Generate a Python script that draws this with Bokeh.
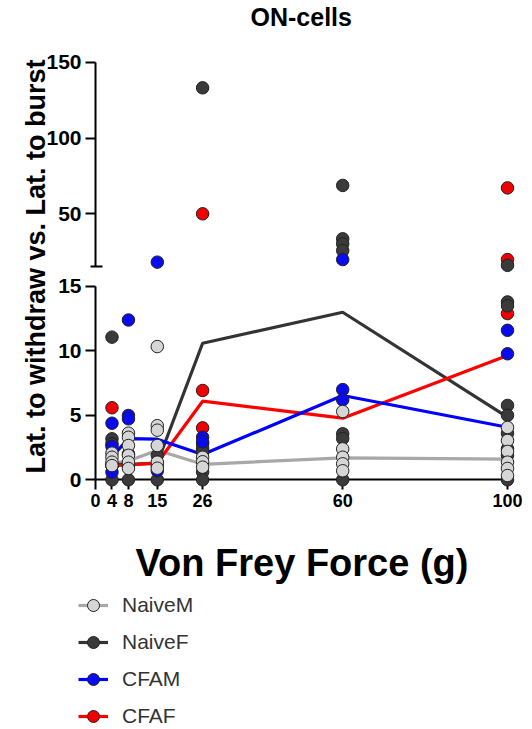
import math
from bokeh.plotting import figure
from bokeh.models import (Range1d, LinearAxis, FixedTicker, ColumnDataSource,
                          Legend, LegendItem, Label)
from bokeh.embed import file_html
from bokeh.resources import INLINE

# ---------------- data ----------------
forces = [4, 8, 15, 26, 60, 100]
force_ticks = [0, 4, 8, 15, 26, 60, 100]
lower_ticks = [0, 5, 10, 15]
upper_ticks = [50, 100, 150]
break_value = 15

naive_m_x = [4, 4, 4, 4,
             8, 8, 8, 8, 8, 8,
             15, 15, 15, 15, 15, 15,
             26, 26, 26,
             60, 60, 60, 60, 60,
             100, 100, 100, 100, 100, 100]
naive_m_y = [2.07, 1.75, 1.37, 1.1,
             3.62, 3.3, 2.66, 1.9, 1.37, 0.88,
             10.34, 4.2, 3.85, 2.66, 1.37, 0.9,
             1.75, 1.4, 0.98,
             5.3, 2.4, 1.75, 1.24, 0.7,
             4.06, 3.05, 2.2, 1.37, 0.88, 0.33]

naive_f_x = [4, 4, 4, 4, 4,
             8, 8, 8,
             15, 15, 15,
             26, 26, 26, 26, 26, 26,
             60, 60, 60, 60, 60, 60, 60,
             100, 100, 100, 100, 100, 100, 100, 100, 100]
naive_f_y = [11.07, 3.18, 2.79, 1.1, 0.0,
             2.0, 1.1, 0.0,
             1.9, 1.1, 0.0,
             133.1, 2.79, 2.45, 2.14, 0.6, 0.0,
             68.7, 33.5, 30.2, 25.8, 3.57, 3.2, 0.0,
             16.0, 13.8, 13.5, 5.77, 5.0, 3.6, 2.4, 1.9, 0.0]

cfam_x = [4, 4, 4, 8, 8, 8, 15, 15, 26, 26, 60, 60, 60, 100, 100]
cfam_y = [4.39, 2.6, 0.59, 12.4, 4.99, 4.73, 18.1, 0.7, 3.3, 2.95,
          19.8, 7.0, 6.2, 11.6, 9.78]

cfaf_x = [4, 4, 8, 26, 26, 26, 100, 100, 100]
cfaf_y = [5.59, 1.1, 1.2, 50.0, 6.93, 4.03, 67.1, 19.8, 12.9]

naive_m_mean = [1.3, 1.45, 2.3, 1.2, 1.7, 1.6]
naive_f_mean = [1.2, 1.2, 1.3, 10.6, 13.0, 4.86]
cfam_mean = [1.8, 3.2, 3.15, 1.96, 6.54, 4.08]
cfaf_mean = [1.1, 1.15, 1.3, 6.1, 4.78, 9.65]

# ---------------- layout (pixels inside the figure) ----------------
W, H = 532, 729
FR_L, FR_R, FR_T, FR_B = 0, 532, 20, 729
X0_PX, X_PER = 95.0, 4.12          # x = 0 position, px per gram
LO0_PX, LO_PER = 479.3, 12.887     # lower segment: y = 0 position, px per unit
UP150_PX, UP_PER = 61.7, 1.516     # upper segment: y = 150 position, px per unit

x_range = Range1d((FR_L - X0_PX) / X_PER, (FR_R - X0_PX) / X_PER)
lo_range = Range1d((LO0_PX - FR_B) / LO_PER, (LO0_PX - FR_T) / LO_PER)
up_range = Range1d(150 - (FR_B - UP150_PX) / UP_PER, 150 + (UP150_PX - FR_T) / UP_PER)

FONT = "Liberation Sans"

p = figure(width=W, height=H, x_range=x_range, y_range=lo_range,
           x_axis_location=None, y_axis_location=None,
           toolbar_location=None, output_backend="svg",
           min_border_left=FR_L, min_border_right=W - FR_R,
           min_border_top=FR_T, min_border_bottom=0)
p.extra_y_ranges = {"upper": up_range}
p.grid.grid_line_color = None
p.outline_line_color = None
p.background_fill_color = "white"

p.title.text = "ON-cells"
p.title.align = "left"
p.title.offset = 250
p.title.standoff = -20
p.title.vertical_align = "bottom"
p.title.text_font = FONT
p.title.text_font_size = "25px"
p.title.text_font_style = "bold"
p.title.text_color = "black"


def style_axis(ax, size):
    ax.level = "underlay"
    ax.axis_line_width = 2
    ax.axis_line_color = "black"
    ax.major_tick_line_width = 2
    ax.major_tick_line_color = "black"
    ax.major_tick_out = 10
    ax.major_tick_in = 0
    ax.major_label_standoff = 4
    ax.major_label_text_font = FONT
    ax.major_label_text_font_size = size
    ax.major_label_text_font_style = "bold"
    ax.major_label_text_color = "black"
    ax.minor_tick_line_color = None


ax_lo = LinearAxis(fixed_location=0, bounds=(0, break_value),
                   ticker=FixedTicker(ticks=lower_ticks))
style_axis(ax_lo, "21px")
ax_up = LinearAxis(y_range_name="upper", fixed_location=0, bounds=(break_value, 150),
                   ticker=FixedTicker(ticks=upper_ticks, minor_ticks=[break_value]))
style_axis(ax_up, "21px")
ax_up.minor_tick_line_color = "black"
ax_up.minor_tick_line_width = 2
ax_up.minor_tick_in = 7
ax_up.minor_tick_out = 5
ax_x = LinearAxis(fixed_location=0, bounds=(0, 100),
                  ticker=FixedTicker(ticks=force_ticks))
style_axis(ax_x, "18px")
p.add_layout(ax_lo, "left")
p.add_layout(ax_up, "left")
p.add_layout(ax_x, "below")

series = {
    "NaiveM": dict(x=naive_m_x, y=naive_m_y, mean=naive_m_mean, fill="#d6d6d6", line="#a8a8a8"),
    "NaiveF": dict(x=naive_f_x, y=naive_f_y, mean=naive_f_mean, fill="#3a3a3a", line="#333333"),
    "CFAM": dict(x=cfam_x, y=cfam_y, mean=cfam_mean, fill="#0a0af0", line="#0000ff"),
    "CFAF": dict(x=cfaf_x, y=cfaf_y, mean=cfaf_mean, fill="#f00000", line="#ff0000"),
}

line_r = {}
for name in ["NaiveM", "NaiveF", "CFAF", "CFAM"]:
    s = series[name]
    line_r[name] = p.line(forces, s["mean"], line_color=s["line"], line_width=3.2)

dot_r = {}
for name in ["CFAF", "NaiveF", "CFAM", "NaiveM"]:
    s = series[name]
    lo = [(a, b) for a, b in zip(s["x"], s["y"]) if b <= break_value]
    hi = [(a, b) for a, b in zip(s["x"], s["y"]) if b > break_value]
    src_lo = ColumnDataSource(dict(x=[a for a, _ in lo], y=[b for _, b in lo]))
    src_hi = ColumnDataSource(dict(x=[a for a, _ in hi], y=[b for _, b in hi]))
    dot_r[name] = p.scatter("x", "y", source=src_lo, size=12.5, fill_color=s["fill"],
                            line_color="#222222", line_width=1)
    p.scatter("x", "y", source=src_hi, size=12.5, fill_color=s["fill"],
              line_color="#222222", line_width=1, y_range_name="upper")

legend = Legend(items=[LegendItem(label=n, renderers=[line_r[n], dot_r[n]])
                       for n in ["NaiveM", "NaiveF", "CFAM", "CFAF"]],
                location=(78, -3), glyph_width=30, glyph_height=32, label_height=32,
                spacing=5, padding=0, margin=0, label_standoff=14,
                label_text_font=FONT, label_text_font_size="21px",
                label_text_color="#333333", border_line_color=None,
                background_fill_alpha=0)
p.add_layout(legend)

xlab = Label(x=(301.5 - X0_PX) / X_PER, y=(LO0_PX - 562) / LO_PER,
             text="Von Frey Force (g)", text_align="center", text_baseline="alphabetic",
             text_font=FONT, text_font_size="38px", text_font_style="bold",
             text_color="black")
ylab = Label(x=(35 - X0_PX) / X_PER, y=(LO0_PX - 266) / LO_PER, angle=math.pi / 2,
             text="Lat. to withdraw vs. Lat. to burst", text_align="center",
             text_baseline="alphabetic", text_font=FONT, text_font_size="27px",
             text_font_style="bold", text_color="black")
p.add_layout(xlab)
p.add_layout(ylab)

open("out.html", "w").write(file_html(p, INLINE))
